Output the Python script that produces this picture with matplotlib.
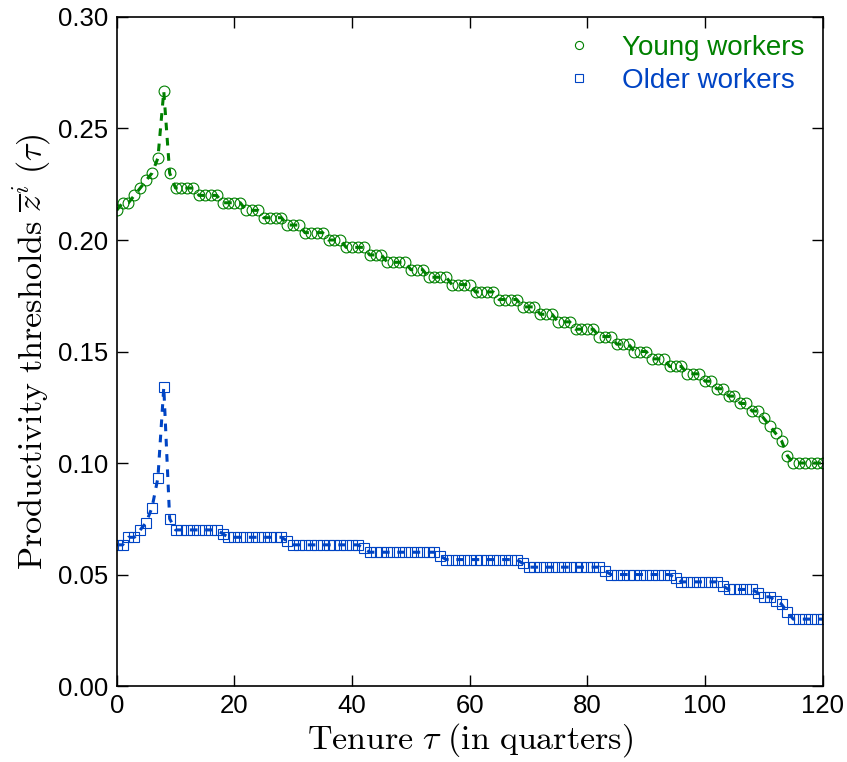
import numpy as np
import matplotlib
matplotlib.use("Agg")
import matplotlib.pyplot as plt

plt.rcParams['font.family'] = ['Liberation Sans', 'DejaVu Sans']
plt.rcParams['mathtext.fontset'] = 'cm'

tenure = np.arange(0, 121)

# productivity thresholds by tenure (quarters 0..120)
young = [
    .2133, .2167, .2167, .2200, .2233, .2267, .2300, .2367, .2667, .2300,
    .2233, .2233, .2233, .2233, .2200, .2200, .2200, .2200, .2167, .2167,
    .2167, .2167, .2133, .2133, .2133, .2100, .2100, .2100, .2100, .2067,
    .2067, .2067, .2033, .2033, .2033, .2033, .2000, .2000, .2000, .1967,
    .1967, .1967, .1967, .1933, .1933, .1933, .1900, .1900, .1900, .1900,
    .1867, .1867, .1867, .1833, .1833, .1833, .1833, .1800, .1800, .1800,
    .1800, .1767, .1767, .1767, .1767, .1733, .1733, .1733, .1733, .1700,
    .1700, .1700, .1667, .1667, .1667, .1633, .1633, .1633, .1600, .1600,
    .1600, .1600, .1567, .1567, .1567, .1533, .1533, .1533, .1500, .1500,
    .1500, .1467, .1467, .1467, .1433, .1433, .1433, .1400, .1400, .1400,
    .1367, .1367, .1333, .1333, .1300, .1300, .1267, .1267, .1233, .1233,
    .1200, .1167, .1133, .1100, .1033, .1000, .1000, .1000, .1000, .1000,
    .1000,
]

older = [
    .0633, .0633, .0667, .0667, .0700, .0733, .0800, .0933, .1340, .0750,
    .0700, .0700, .0700, .0700, .0700, .0700, .0700, .0700, .0683, .0667,
    .0667, .0667, .0667, .0667, .0667, .0667, .0667, .0667, .0667, .0650,
    .0633, .0633, .0633, .0633, .0633, .0633, .0633, .0633, .0633, .0633,
    .0633, .0633, .0617, .0600, .0600, .0600, .0600, .0600, .0600, .0600,
    .0600, .0600, .0600, .0600, .0600, .0583, .0567, .0567, .0567, .0567,
    .0567, .0567, .0567, .0567, .0567, .0567, .0567, .0567, .0567, .0550,
    .0533, .0533, .0533, .0533, .0533, .0533, .0533, .0533, .0533, .0533,
    .0533, .0533, .0533, .0517, .0500, .0500, .0500, .0500, .0500, .0500,
    .0500, .0500, .0500, .0500, .0500, .0483, .0467, .0467, .0467, .0467,
    .0467, .0467, .0467, .0450, .0433, .0433, .0433, .0433, .0433, .0417,
    .0400, .0400, .0383, .0367, .0333, .0300, .0300, .0300, .0300, .0300,
    .0300,
]

green = '#008000'
blue = '#0044c4'

fig = plt.figure(figsize=(8.47, 7.62), dpi=100)
ax = fig.add_axes([0.1378, 0.0997, 0.8335, 0.878])

ax.plot(tenure, young, ls='--', color=green, lw=2.2, dashes=(2.5, 2.5))
ax.plot(tenure, young, ls='none', marker='o', ms=7.8, mfc='none',
        mec=green, mew=0.8, label='Young workers')
ax.plot(tenure, older, ls='--', color=blue, lw=2.2, dashes=(2.5, 2.5))
ax.plot(tenure, older, ls='none', marker='s', ms=6.8, mfc='none',
        mec=blue, mew=0.8, label='Older workers')

ax.set_xlim(0, 120)
ax.set_ylim(0, 0.30)
ax.set_xticks(np.arange(0, 121, 20))
ax.set_yticks(np.arange(0, 0.31, 0.05))
ax.yaxis.set_major_formatter(matplotlib.ticker.FormatStrFormatter('%.2f'))
ax.tick_params(direction='in', length=8, width=1, labelsize=18.5,
               top=True, right=True, pad=6)
for s in ax.spines.values():
    s.set_linewidth(1.2)

ax.set_xlabel(r'$\mathrm{Tenure}\ \tau\ \mathrm{(in\ quarters)}$', fontsize=24.5, labelpad=2)
ax.set_ylabel(r'$\mathrm{Productivity\ thresholds}\ \overline{z}^i\ (\tau)$', fontsize=24.5, labelpad=4)

leg = ax.legend(loc='upper right', frameon=False, fontsize=20, numpoints=1,
                markerscale=0.75, handlelength=1.5, handletextpad=0.8,
                borderaxespad=0.25, labelspacing=0.25)
for txt, c in zip(leg.get_texts(), [green, blue]):
    txt.set_color(c)

fig.savefig('out.png', dpi=100)
